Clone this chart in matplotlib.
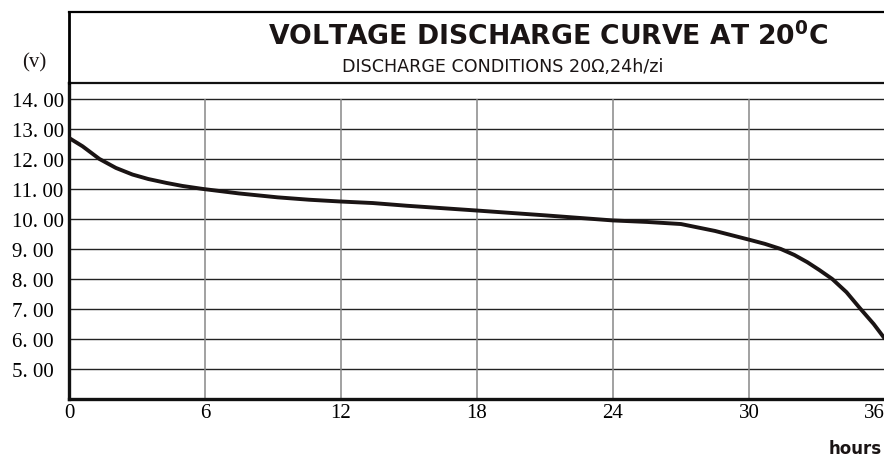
import matplotlib
matplotlib.use("Agg")
import matplotlib.pyplot as plt

# discharge curve (hours, volts)
hours = [0, 0.6, 1.34, 2.07, 2.8, 3.5, 4.3, 5.0, 5.9, 7.5, 9.2, 10.6, 12, 13.4,
         14.9, 18, 21, 24, 25.5, 27, 28.5, 30, 30.7, 31.4, 32.0, 32.57, 33.1,
         33.67, 34.3, 34.9, 35.5, 36]
volts = [12.70, 12.42, 12.0, 11.70, 11.48, 11.33, 11.2, 11.1, 11.0, 10.85, 10.72,
         10.64, 10.58, 10.53, 10.44, 10.28, 10.12, 9.95, 9.9, 9.83, 9.6, 9.31, 9.17,
         9.0, 8.8, 8.56, 8.3, 8.0, 7.56, 7.02, 6.5, 6.0]

x_ticks = [0, 6, 12, 18, 24, 30, 36]
y_ticks = [5, 6, 7, 8, 9, 10, 11, 12, 13, 14]
y_labels = ["5. 00", "6. 00", "7. 00", "8. 00", "9. 00", "10. 00", "11. 00",
            "12. 00", "13. 00", "14. 00"]

title = "VOLTAGE DISCHARGE CURVE AT 20$^\\mathbf{0}$C"
subtitle = "DISCHARGE CONDITIONS 20\u03a9,24h/zi"

W, H = 884, 460
fig = plt.figure(figsize=(W / 100, H / 100), dpi=100)

# main plot area (pixel box: x 69..885, y 84..400)
ax = fig.add_axes([69 / W, 60 / H, 816 / W, 316 / H])
ax.set_xlim(0, 36)
ax.set_ylim(4, 14.53)

for v in y_ticks:
    ax.axhline(v, color="#222222", lw=1.0, zorder=1)
ax.vlines(x_ticks[1:-1], 4, 14, color="#888888", lw=1.1, zorder=1)

ax.plot(hours, volts, color="#1a1414", lw=2.8, solid_capstyle="butt",
        solid_joinstyle="round", zorder=3)

ax.spines["right"].set_visible(False)
ax.spines["left"].set_linewidth(2.4)
ax.spines["bottom"].set_linewidth(2.4)
ax.spines["top"].set_linewidth(1.6)
for s in ax.spines.values():
    s.set_color("#111111")

ax.set_xticks(x_ticks)
ax.set_xticklabels([str(t) for t in x_ticks], family="Liberation Serif", fontsize=15)
ax.set_yticks(y_ticks)
ax.set_yticklabels(y_labels, family="Liberation Serif", fontsize=15)
ax.tick_params(axis="both", length=0)
ax.tick_params(axis="x", pad=3)
ax.tick_params(axis="y", pad=41)
for lab in ax.get_yticklabels():
    lab.set_horizontalalignment("left")
# last hour label sits at the right edge, as in the original
ax.get_xticklabels()[-1].set_horizontalalignment("right")

# title box above the plot (pixel box: y 13..84)
tax = fig.add_axes([69 / W, (H - 84) / H, 830 / W, 71 / H])
tax.set_xticks([])
tax.set_yticks([])
tax.set_facecolor("none")
tax.spines["right"].set_visible(False)
tax.spines["bottom"].set_visible(False)
tax.spines["top"].set_linewidth(1.6)
tax.spines["left"].set_linewidth(2.0)

fig.text(548 / W, 1 - 37 / H, title, ha="center", va="center",
         fontsize=19.2, fontweight="bold", family="DejaVu Sans", color="#1a1414")
fig.text(503 / W, 1 - 67.5 / H, subtitle, ha="center", va="center",
         fontsize=12.6, family="DejaVu Sans", color="#1a1414")
fig.text(34 / W, 1 - 63 / H, "(v)", ha="center", va="center",
         fontsize=15, family="Liberation Serif", color="#1a1414")
fig.text(829 / W, 1 - 449 / H, "hours", ha="left", va="center",
         fontsize=12, fontweight="bold", family="DejaVu Sans", color="#1a1414")

fig.savefig("out.png", dpi=100)
